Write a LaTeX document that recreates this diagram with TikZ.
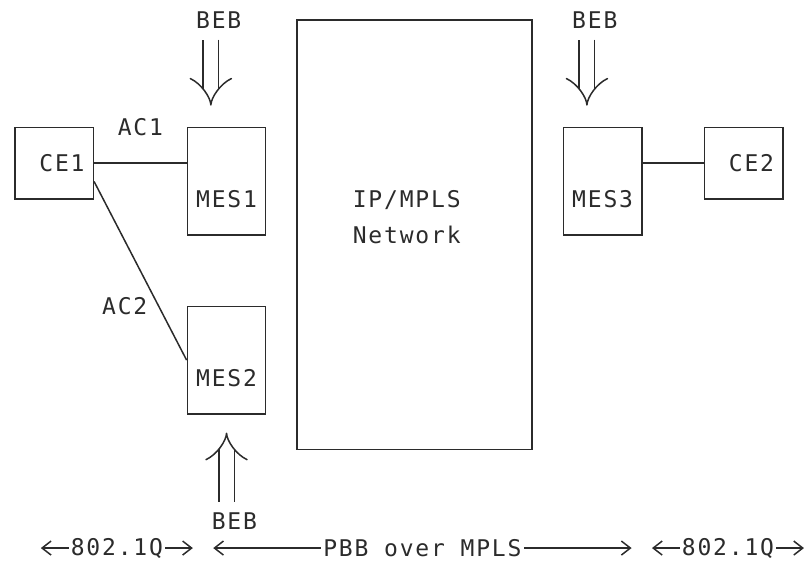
\documentclass[tikz,border=0pt]{standalone}
\usepackage{fontspec}
\usepackage{tikz}
\usetikzlibrary{arrows.meta}
\usetikzlibrary{calc}
\newfontfamily\asciifont{DejaVu Sans Mono}[LetterSpace=7.9]
\definecolor{ink}{HTML}{2B2B2B}

\begin{document}
\begin{tikzpicture}[x=15.67pt,y=-35.8pt,
    every node/.style={text=ink,font={\asciifont\fontsize{23}{35.8}\selectfont},inner sep=0pt},
    box/.style={draw=ink,line width=1.5pt,minimum width=78.35pt},
    wire/.style={draw=ink,line width=1.5pt},
    beb/.style={draw=ink,double,line width=1.5pt,double distance=14pt,-{Implies}},
    span/.style={draw=ink,line width=1.5pt,{Straight Barb[length=9pt,width=14pt]}-{Straight Barb[length=9pt,width=14pt]}},
    spanlbl/.style={fill=white,inner xsep=2pt}]
  \useasboundingbox (-0.957,-0.559) rectangle (50.48,15.28);
  \node[box,minimum height=71.6pt] (ce1) at (2.5,4) {};
  \node[box,minimum height=107.4pt] (mes1) at (13.5,4.5) {};
  \node[box,minimum height=107.4pt] (mes2) at (13.5,9.5) {};
  \node[box,minimum height=107.4pt] (mes3) at (37.5,4.5) {};
  \node[box,minimum height=71.6pt] (ce2) at (46.5,4) {};
  \node[box,minimum width=235pt,minimum height=429.6pt] (mpls) at (25.5,6) {};
  \node (ce1t) at (3,4) {CE1};
  \node (mes1t) at (13.5,5) {MES1};
  \node (mes2t) at (13.5,10) {MES2};
  \node (mes3t) at (37.5,5) {MES3};
  \node (ce2t) at (47,4) {CE2};
  \node[align=center] (mplst) at (25,5.5) {IP/MPLS\\Network};
  \node (ac1) at (8,3) {AC1};
  \node (ac2) at (7,8) {AC2};
  \node (bebl) at (13,0) {BEB};
  \node (bebr) at (37,0) {BEB};
  \node (bebb) at (14,14) {BEB};
  \coordinate (bebl-a) at (12.5,0.55);
  \coordinate (bebr-a) at (36.5,0.55);
  \coordinate (bebb-a) at (13.5,13.45);
  \draw[beb,shorten >=21pt] (bebl-a) -- (bebl-a |- mes1.north);
  \draw[beb,shorten >=21pt] (bebr-a) -- (bebr-a |- mes3.north);
  \draw[beb,shorten >=18pt] (bebb-a) -- (bebb-a |- mes2.south);
  \draw[wire] (ce1.east) -- (ce1.east -| mes1.west);
  \draw[wire] ($(ce1.east)!0.5!(ce1.south east)$) -- (mes2.west);
  \draw[wire] (ce2.west -| mes3.east) -- (ce2.west);
  \coordinate (q1l) at (1.65,14.75);
  \coordinate (q1r) at (11.35,14.75);
  \coordinate (pbbl) at (12.65,14.75);
  \coordinate (pbbr) at (39.35,14.75);
  \coordinate (q2l) at (40.65,14.75);
  \coordinate (q2r) at (50.35,14.75);
  \draw[span] (q1l) -- node[spanlbl] (q1t) {802.1Q} (q1r);
  \draw[span] (pbbl) -- node[spanlbl] (pbbt) {PBB over MPLS} (pbbr);
  \draw[span] (q2l) -- node[spanlbl] (q2t) {802.1Q} (q2r);
\end{tikzpicture}
\end{document}
